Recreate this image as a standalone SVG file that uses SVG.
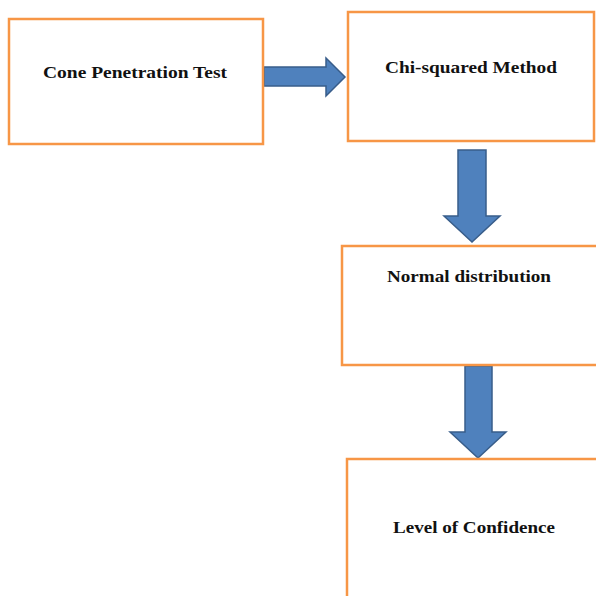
<svg xmlns="http://www.w3.org/2000/svg" width="596" height="596" viewBox="0 0 596 596">
<style>
.box{fill:#ffffff;stroke:#f79646;stroke-width:2.5}
.lbl{font-family:"Liberation Serif","Times New Roman",serif;font-weight:bold;font-size:17px;fill:#111;text-anchor:middle}
.arr{fill:#4f81bd;stroke:#385d8a;stroke-width:1.5;stroke-linejoin:miter}
</style>
<rect width="596" height="596" fill="#ffffff"/>
<g id="connectors">
<path class="arr" d="M264,67 L326,67 L326,58 L345,77 L326,96 L326,86 L264,86 Z"/>
<path class="arr" d="M458,150 L486,150 L486,216 L500,216 L472,242 L444,216 L458,216 Z"/>
<path class="arr" d="M465,366 L492,366 L492,432 L506,432 L478,458 L450,432 L465,432 Z"/>
</g>
<g id="node-cpt">
<rect class="box" x="9" y="19" width="254" height="125"/>
<text class="lbl" x="135" y="78" textLength="184" lengthAdjust="spacingAndGlyphs">Cone Penetration Test</text>
</g>
<g id="node-chi">
<rect class="box" x="348" y="12" width="246" height="129"/>
<text class="lbl" x="471" y="73" textLength="172" lengthAdjust="spacingAndGlyphs">Chi-squared Method</text>
</g>
<g id="node-normal">
<rect class="box" x="342" y="246" width="258" height="119"/>
<text class="lbl" x="469" y="282" textLength="164" lengthAdjust="spacingAndGlyphs">Normal distribution</text>
</g>
<g id="node-confidence">
<rect class="box" x="347" y="459" width="260" height="160"/>
<text class="lbl" x="474" y="533" textLength="162" lengthAdjust="spacingAndGlyphs">Level of Confidence</text>
</g>
</svg>
